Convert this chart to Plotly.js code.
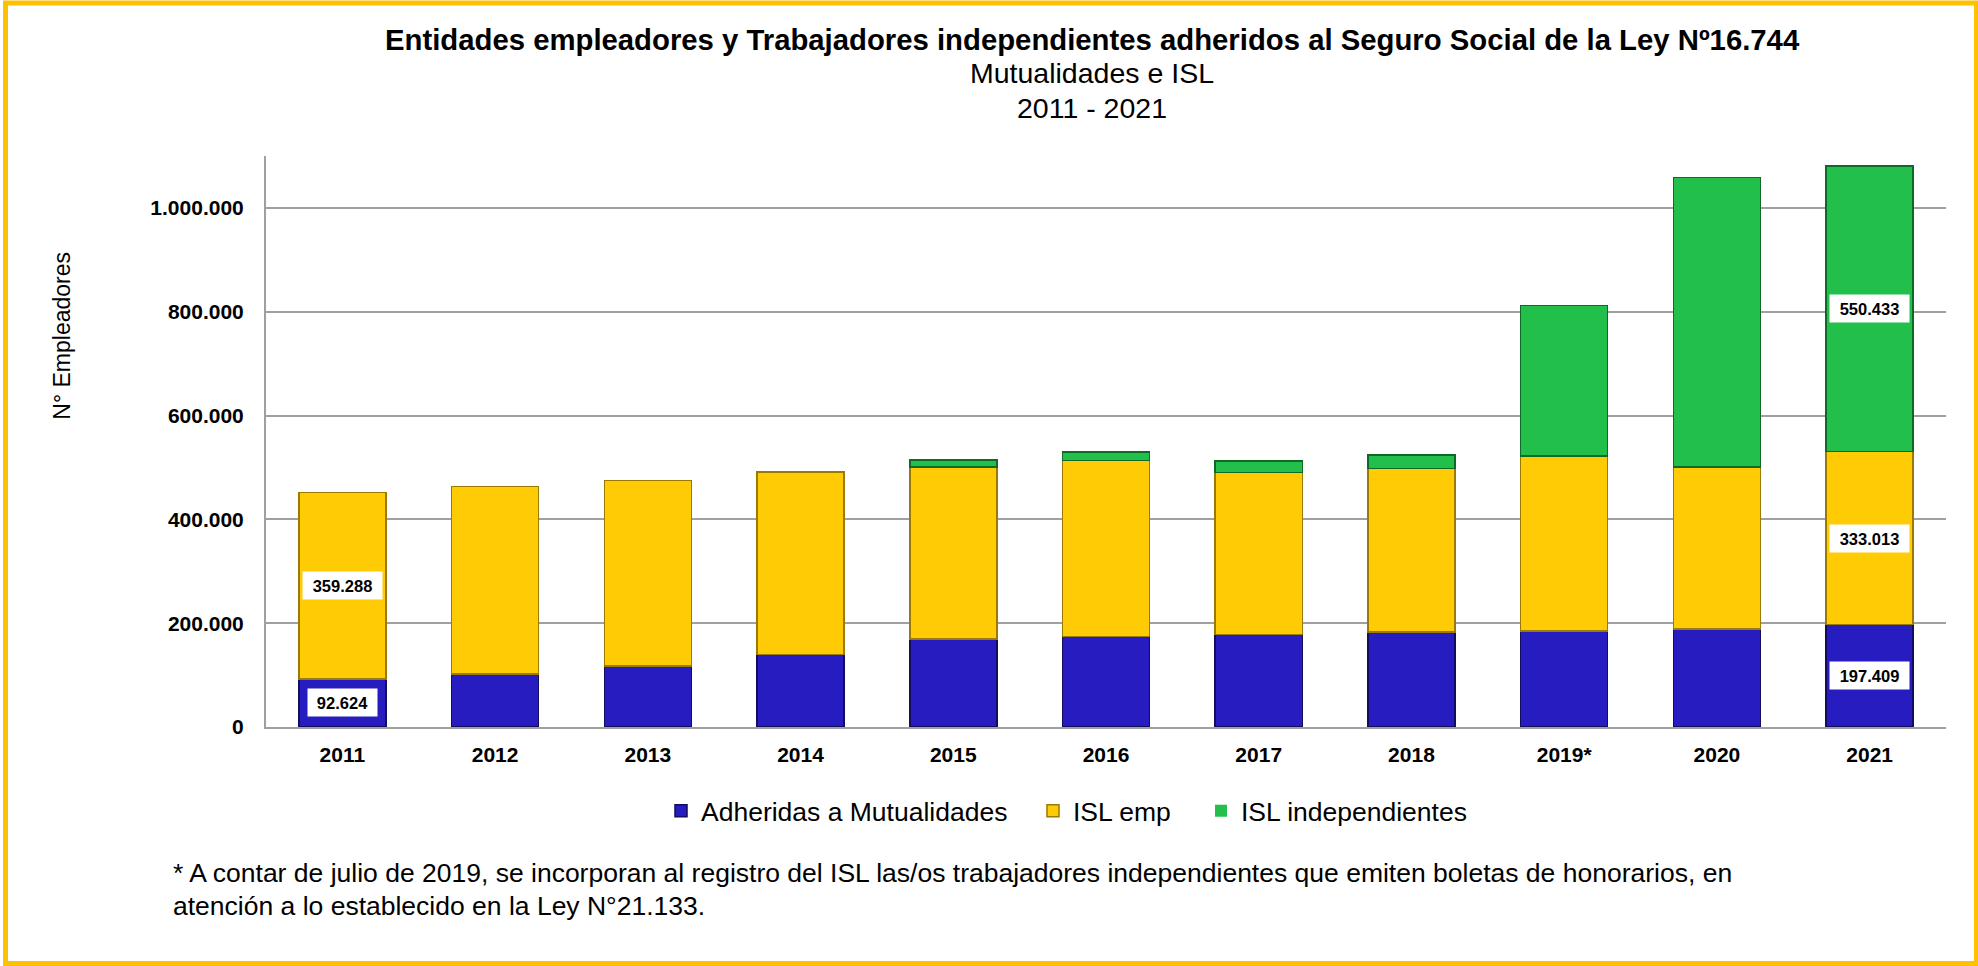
<!DOCTYPE html>
<html>
<head>
<meta charset="utf-8">
<script src="https://cdn.plot.ly/plotly-3.0.1.min.js"></script>
<style>
  html, body { margin: 0; padding: 0; background: #ffffff; }
  #chart { width: 1978px; height: 966px; }
</style>
</head>
<body>
<div id="chart"></div>
<script>
// ---- Data ----
const years = ['2011', '2012', '2013', '2014', '2015', '2016', '2017', '2018', '2019*', '2020', '2021'];
const mutualidades = [92624, 102000, 118000, 140000, 170000, 174000, 178000, 183000, 185000, 189000, 197409];
const islEmp = [359288, 361000, 357000, 351000, 331000, 339000, 312000, 315000, 337000, 312000, 333013];
const islIndep = [0, 0, 0, 0, 13000, 17000, 22000, 26000, 290000, 558000, 550433];
const seriesNames = ['Adheridas a Mutualidades', 'ISL emp', 'ISL independientes'];
const labeledYears = ['2011', '2021'];
const yTicks = [0, 200000, 400000, 600000, 800000, 1000000];

const titleLines = ['Entidades empleadores y Trabajadores independientes adheridos al Seguro Social de la Ley Nº16.744', 'Mutualidades e ISL', '2011 - 2021'];
const yTitle = 'N° Empleadores';
const footnoteLines = ['* A contar de julio de 2019, se incorporan al registro del ISL las/os trabajadores independientes que emiten boletas de honorarios, en', 'atención a lo establecido en la Ley N°21.133.'];

// ---- Layout geometry ----
const W = 1978, H = 966;
const M = { l: 266, r: 32, t: 156, b: 239 };
const PW = W - M.l - M.r, PH = H - M.t - M.b;
const px = x => (x - M.l) / PW;
const py = y => (H - M.b - y) / PH;

const FONT = 'Arial, "Liberation Sans", sans-serif';
const colors = ['#261CBF', '#FFCB05', '#22BF4A'];
const edge = ['#120D5E', '#9A7A00', '#0F6A28'];

function fmt(v) {
  return String(Math.round(v)).replace(/\B(?=(\d{3})+(?!\d))/g, '.');
}

const seriesData = [mutualidades, islEmp, islIndep];
const legendIds = ['legend', 'legend2', 'legend3'];
const traces = seriesData.map((vals, i) => ({
  type: 'bar',
  name: seriesNames[i],
  x: years,
  y: vals,
  marker: {
    color: colors[i],
    line: { color: edge[i], width: vals.map(v => (v > 0 ? 1.5 : 0)) }
  },
  legend: legendIds[i],
  hoverinfo: 'x+y+name'
}));

// Data labels (white boxes) at the middle of each labelled segment
const annotations = [];
labeledYears.forEach(yr => {
  const idx = years.indexOf(yr);
  let base = 0;
  seriesData.forEach(vals => {
    const v = vals[idx];
    if (v > 0) {
      const t = fmt(v);
      annotations.push({
        x: idx, y: base + v / 2, xref: 'x', yref: 'y',
        text: t, showarrow: false,
        font: { family: FONT, size: 16.5, color: '#000', weight: 'bold' },
        bgcolor: '#ffffff', borderpad: 0,
        width: 10 * t.length + 9, height: 27
      });
    }
    base += v;
  });
});

// Titles
const titleY = [39, 73, 108.5];
const titleSize = [29.3, 28.5, 28.5];
titleLines.forEach((t, i) => {
  annotations.push({
    x: px(1092), y: py(titleY[i]), xref: 'paper', yref: 'paper',
    xanchor: 'center', yanchor: 'middle', showarrow: false,
    text: t,
    font: { family: FONT, size: titleSize[i], color: '#000', weight: i === 0 ? 'bold' : 'normal' }
  });
});

// Y axis title
annotations.push({
  x: px(61.7), y: py(336), xref: 'paper', yref: 'paper',
  xanchor: 'center', yanchor: 'middle', showarrow: false, textangle: -90,
  text: yTitle, font: { family: FONT, size: 23, color: '#000' }
});

// Footnote
const footY = [873, 906];
footnoteLines.forEach((t, i) => {
  annotations.push({
    x: px(171), y: py(footY[i]), xref: 'paper', yref: 'paper',
    xanchor: 'left', yanchor: 'middle', showarrow: false, align: 'left',
    text: t, font: { family: FONT, size: 26.5, color: '#000' }
  });
});

const legendX = [661, 1033, 1201];
const legendFont = { family: FONT, size: 26.5, color: '#000' };
const legendCommon = {
  orientation: 'h', xanchor: 'left', yanchor: 'middle', y: py(811),
  font: legendFont, bgcolor: 'rgba(0,0,0,0)', borderwidth: 0
};

const layout = {
  width: W, height: H,
  margin: M,
  paper_bgcolor: '#ffffff', plot_bgcolor: '#ffffff',
  separators: ',.',
  barmode: 'stack',
  bargap: 0.43,
  showlegend: true,
  legend: Object.assign({}, legendCommon, { x: px(legendX[0]) }),
  legend2: Object.assign({}, legendCommon, { x: px(legendX[1]) }),
  legend3: Object.assign({}, legendCommon, { x: px(legendX[2]) }),
  xaxis: {
    type: 'category',
    range: [-0.5, years.length - 0.5],
    autorange: false,
    showgrid: false,
    showline: true, linecolor: '#A0A0A0', linewidth: 2,
    ticks: '',
    ticklabelstandoff: 8,
    tickfont: { family: FONT, size: 21, color: '#000', weight: 'bold' },
    fixedrange: true
  },
  yaxis: {
    range: [0, 1100000],
    autorange: false,
    tickvals: yTicks,
    tickformat: ',d',
    showgrid: true, gridcolor: '#A0A0A0', gridwidth: 2,
    zeroline: false,
    showline: true, linecolor: '#A0A0A0', linewidth: 2,
    ticks: '',
    ticklabelstandoff: 16,
    tickfont: { family: FONT, size: 21, color: '#000', weight: 'bold' },
    fixedrange: true
  },
  annotations: annotations,
  shapes: [{
    type: 'rect', xref: 'paper', yref: 'paper',
    x0: px(5.5), x1: px(1976.5), y0: py(963.5), y1: py(3),
    line: { color: '#FFC000', width: 5 }, fillcolor: 'rgba(0,0,0,0)'
  }]
};

Plotly.newPlot('chart', traces, layout, { displayModeBar: false, responsive: false });
</script>
</body>
</html>
